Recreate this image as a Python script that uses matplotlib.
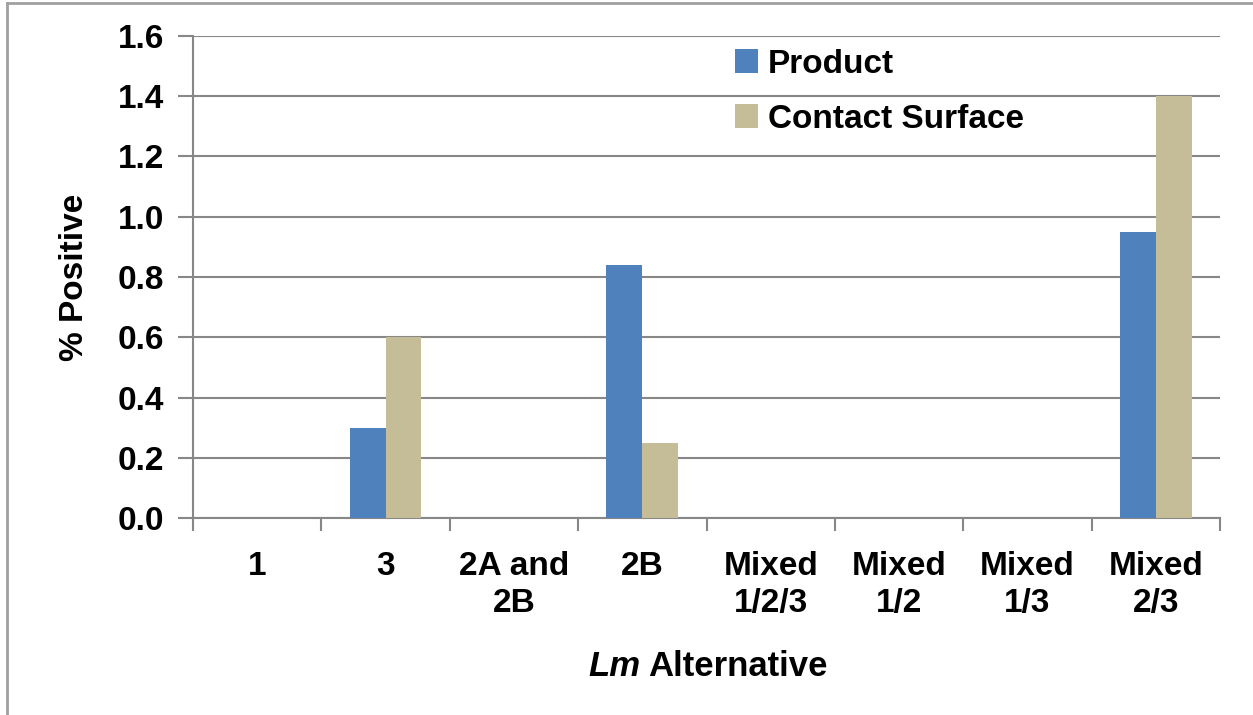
import numpy as np
import matplotlib.pyplot as plt
from matplotlib.lines import Line2D
from matplotlib.ticker import FixedLocator

plt.rcParams['font.family'] = ['Liberation Sans', 'DejaVu Sans']
plt.rcParams['font.weight'] = 'bold'

# data
categories = ['1', '3', '2A and\n2B', '2B', 'Mixed\n1/2/3', 'Mixed\n1/2', 'Mixed\n1/3', 'Mixed\n2/3']
product = [0.0, 0.30, 0.0, 0.84, 0.0, 0.0, 0.0, 0.95]
contact_surface = [0.0, 0.60, 0.0, 0.25, 0.0, 0.0, 0.0, 1.40]

blue = '#4F81BD'
tan = '#C4BD97'
grid_gray = '#878787'

fig = plt.figure(figsize=(12.53, 7.15), dpi=100)
ax = fig.add_axes([0.154, 0.2755, 0.8197, 0.6742])

x = np.arange(len(categories))
w = 0.28
ax.bar(x - w / 2, product, w, color=blue, label='Product', zorder=3)
ax.bar(x + w / 2, contact_surface, w, color=tan, label='Contact Surface', zorder=3)

ax.set_xlim(-0.5, len(categories) - 0.5)
ax.set_ylim(0, 1.6)
ax.set_yticks(np.arange(0, 1.61, 0.2))
ax.set_yticklabels([f'{v:.1f}' for v in np.arange(0, 1.61, 0.2)])
ax.yaxis.grid(True, color=grid_gray, linewidth=1.5, zorder=0)
ax.set_axisbelow(True)

ax.set_xticks(x)
ax.set_xticklabels(categories, linespacing=1.25)
ax.xaxis.set_minor_locator(FixedLocator(np.arange(-0.5, len(categories), 1.0)))
ax.tick_params(axis='x', which='major', length=0, pad=24, labelsize=24)
ax.tick_params(axis='x', which='minor', length=9, width=1.5, color=grid_gray, direction='out')
ax.tick_params(axis='y', length=11, width=1.5, color=grid_gray, labelsize=24, pad=10)

for s in ['top', 'right']:
    ax.spines[s].set_visible(False)
for s in ['left', 'bottom']:
    ax.spines[s].set_color(grid_gray)
    ax.spines[s].set_linewidth(1.5)

ax.set_ylabel('% Positive', fontsize=24, fontweight='bold', labelpad=20)

# x-axis title: italic "Lm" followed by upright "Alternative"
fig.text(0.5115, 0.068, 'Lm', ha='right', va='center', fontsize=25,
         fontweight='bold', fontstyle='italic')
fig.text(0.5175, 0.068, 'Alternative', ha='left', va='center', fontsize=25,
         fontweight='bold')

ax.legend(loc='upper left', bbox_to_anchor=(0.508, 1.015), frameon=False, fontsize=24,
          handlelength=0.7, handleheight=0.7, handletextpad=0.3, labelspacing=0.72,
          borderaxespad=0.2)

# outer chart-area border (top and left edges only visible)
fig.add_artist(Line2D([0.0056, 0.0056], [0, 0.996], color='#a0a0a0', linewidth=2))
fig.add_artist(Line2D([0.0056, 1.0], [0.996, 0.996], color='#a0a0a0', linewidth=2))

fig.savefig('out.png', dpi=100)
